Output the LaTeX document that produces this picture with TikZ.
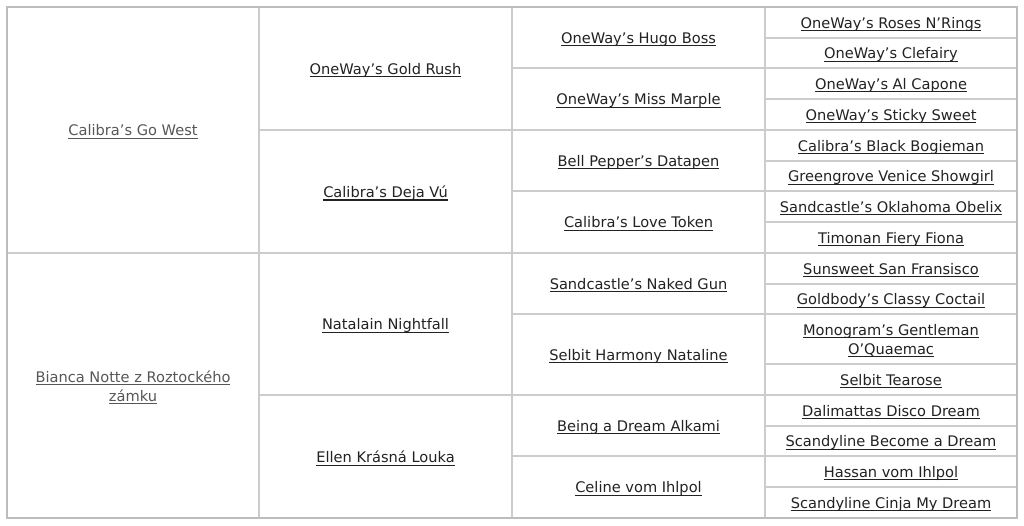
\documentclass[tikz,border=0pt]{standalone}
\usepackage{fontspec}
\setmainfont{DejaVu Sans}
\definecolor{gridc}{HTML}{CCCCCC}
\definecolor{outerc}{HTML}{BDBDBD}
\definecolor{txtc}{HTML}{222222}
\definecolor{greyt}{HTML}{575757}
\newsavebox{\ulbox}
\newcommand\ulk[1]{\sbox\ulbox{#1}\rlap{\rule[-0.2em]{\wd\ulbox}{0.075em}}\usebox\ulbox}
\tikzset{
  grid/.style={draw=gridc, line width=1.1pt},
  lbl/.style={font=\fontsize{14.6}{19}\selectfont, text=txtc, align=center, inner sep=0pt, yshift=-1.8pt},
  lblgrey/.style={lbl, text=greyt}
}
\newcommand\cell[7][lbl]{%
  \draw[grid] (#3,#4) rectangle (#5,#6);
  \node[#1] (#2) at ({(#3+#5)/2},{(#4+#6)/2}) {#7};}
\begin{document}
\begin{tikzpicture}[x=1pt,y=-1pt]
\useasboundingbox[fill=white] (0,0) rectangle (1024,526);
% column 1
\cell[lblgrey]{a1}{7}{7}{259}{253}{\ulk{Calibra’s Go West}}
\cell[lblgrey]{a2}{7}{253}{259}{518}{\ulk{Bianca Notte z Roztockého}\\\ulk{zámku}}
% column 2
\cell{b1}{259}{7}{512}{130}{\ulk{OneWay’s Gold Rush}}
\cell{b2}{259}{130}{512}{253}{\ulk{Calibra’s Deja Vú}}
\cell{b3}{259}{253}{512}{395}{\ulk{Natalain Nightfall}}
\cell{b4}{259}{395}{512}{518}{\ulk{Ellen Krásná Louka}}
% column 3
\cell{c1}{512}{7}{765}{68}{\ulk{OneWay’s Hugo Boss}}
\cell{c2}{512}{68}{765}{130}{\ulk{OneWay’s Miss Marple}}
\cell{c3}{512}{130}{765}{191}{\ulk{Bell Pepper’s Datapen}}
\cell{c4}{512}{191}{765}{253}{\ulk{Calibra’s Love Token}}
\cell{c5}{512}{253}{765}{314}{\ulk{Sandcastle’s Naked Gun}}
\cell{c6}{512}{314}{765}{395}{\ulk{Selbit Harmony Nataline}}
\cell{c7}{512}{395}{765}{456}{\ulk{Being a Dream Alkami}}
\cell{c8}{512}{456}{765}{518}{\ulk{Celine vom Ihlpol}}
% column 4
\cell{d1}{765}{7}{1017}{38}{\ulk{OneWay’s Roses N’Rings}}
\cell{d2}{765}{38}{1017}{68}{\ulk{OneWay’s Clefairy}}
\cell{d3}{765}{68}{1017}{99}{\ulk{OneWay’s Al Capone}}
\cell{d4}{765}{99}{1017}{130}{\ulk{OneWay’s Sticky Sweet}}
\cell{d5}{765}{130}{1017}{161}{\ulk{Calibra’s Black Bogieman}}
\cell{d6}{765}{161}{1017}{191}{\ulk{Greengrove Venice Showgirl}}
\cell{d7}{765}{191}{1017}{222}{\ulk{Sandcastle’s Oklahoma Obelix}}
\cell{d8}{765}{222}{1017}{253}{\ulk{Timonan Fiery Fiona}}
\cell{d9}{765}{253}{1017}{284}{\ulk{Sunsweet San Fransisco}}
\cell{d10}{765}{284}{1017}{314}{\ulk{Goldbody’s Classy Coctail}}
\cell{d11}{765}{314}{1017}{364}{\ulk{Monogram’s Gentleman}\\\ulk{O’Quaemac}}
\cell{d12}{765}{364}{1017}{395}{\ulk{Selbit Tearose}}
\cell{d13}{765}{395}{1017}{426}{\ulk{Dalimattas Disco Dream}}
\cell{d14}{765}{426}{1017}{456}{\ulk{Scandyline Become a Dream}}
\cell{d15}{765}{456}{1017}{487}{\ulk{Hassan vom Ihlpol}}
\cell{d16}{765}{487}{1017}{518}{\ulk{Scandyline Cinja My Dream}}
\draw[draw=outerc, line width=1.4pt] (7,7) rectangle (1017,518);
\end{tikzpicture}
\end{document}
